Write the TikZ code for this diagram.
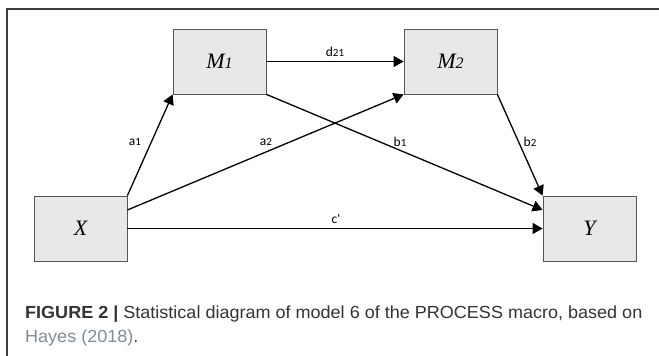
\documentclass[tikz,border=0pt]{standalone}
\usepackage{fontspec}
\setmainfont{Liberation Serif}
\newfontfamily\labfont{Carlito}
\newfontfamily\capfont[FakeStretch=1.03]{Liberation Sans}
\usetikzlibrary{arrows.meta}
\definecolor{boxfill}{HTML}{E8E8E8}
\definecolor{boxline}{HTML}{555555}
\definecolor{framecol}{HTML}{3C3C3C}
\definecolor{captext}{HTML}{333333}
\definecolor{reflink}{HTML}{808B97}
\newcommand\labsub[1]{\raisebox{-0.5pt}{\fontsize{11}{11}\selectfont #1}}
\newcommand\boxsub[1]{{\fontsize{16}{16}\selectfont #1}}
\begin{document}
\begin{tikzpicture}[x=1pt,y=-1pt,
  varbox/.style={draw=boxline, fill=boxfill, line width=0.8pt, minimum width=93pt, minimum height=65pt, inner sep=0pt, font=\fontsize{22}{24}\selectfont\itshape},
  effect/.style={line width=1.3pt, -{Triangle[length=10pt,width=11pt]}},
  lab/.style={font=\labfont\fontsize{13.5}{14}\selectfont, inner sep=0pt},
  capline/.style={anchor=base west, inner sep=0pt, text=captext, font=\capfont\fontsize{17.5}{18}\selectfont}]
\useasboundingbox (0,0) rectangle (659,356);
\draw[framecol, line width=1.2pt] (7,356) -- (7,9) -- (659,9);

\node[varbox] (X)  at (80.5,228.5) {X};
\node[varbox] (M1) at (219.5,61.5) {M\boxsub{1}};
\node[varbox] (M2) at (450.5,61.5) {M\boxsub{2}};
\node[varbox] (Y)  at (589.5,228.5) {Y};

\draw[effect] (X.north east) -- (M1.south west);
\draw[effect] ([yshift=18.5pt]X.east) -- (M2.south west);
\draw[effect] (M1.east) -- (M2.west);
\draw[effect] (M1.south east) -- ([yshift=18.5pt]Y.west);
\draw[effect] (M2.south east) -- (Y.north west);
\draw[effect] (X.east) -- (Y.west);

\node[lab] (la1) at (135,142) {a\labsub{1}};
\node[lab] (la2) at (266,142) {a\labsub{2}};
\node[lab] (lb1) at (400,142) {b\labsub{1}};
\node[lab] (lb2) at (530,142) {b\labsub{2}};
\node[lab] (ld)  at (335,52) {d\labsub{21}};
\node[lab] (lc)  at (336,219) {c'};

\node[capline] (cap1) at (25,318) {\textbf{FIGURE 2 |} Statistical diagram of model 6 of the PROCESS macro, based on};
\node[capline] (cap2) at (25,342) {\textcolor{reflink}{Hayes (2018)}.};
\end{tikzpicture}
\end{document}
